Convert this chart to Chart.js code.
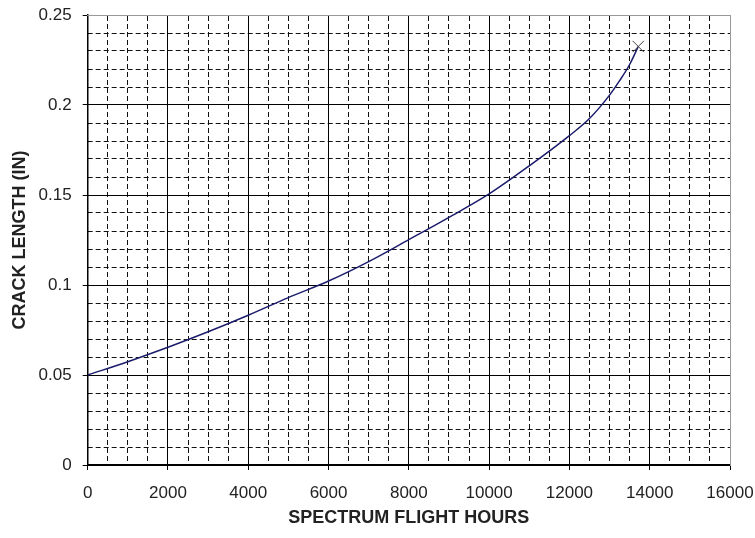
<!DOCTYPE html>
<html>
<head>
<meta charset="utf-8">
<script src="https://cdn.jsdelivr.net/npm/chart.js@4.4.1/dist/chart.umd.min.js"></script>
<style>
  html, body { margin: 0; padding: 0; background: #fff; }
  #wrap { width: 755px; height: 538px; }
</style>
</head>
<body>
<div id="wrap"><canvas id="crack" width="755" height="538"></canvas></div>
<script>
// crack growth curve
const hours = [0, 1000, 2000, 3000, 4000, 5000, 6000, 7000, 8000, 9000, 10000, 11000, 12000, 12500, 13000, 13250, 13500, 13715];
const crackLength = [0.05, 0.0574, 0.0654, 0.074, 0.0832, 0.093, 0.1022, 0.113, 0.1252, 0.1376, 0.1506, 0.1662, 0.1830, 0.1925, 0.2055, 0.2135, 0.2225, 0.2325];

const xMin = 0, xMax = 16000, xMajor = 2000, xMinor = 500;
const yMin = 0, yMax = 0.25, yMajor = 0.05, yMinor = 0.01;

const points = hours.map((h, i) => ({x: h, y: crackLength[i]}));
const lastIdx = points.length - 1;

const tickFont = {family: 'Liberation Sans, Arial, sans-serif', size: 17};
const titleFont = {family: 'Liberation Sans, Arial, sans-serif', size: 18, weight: 'bold'};

new Chart(document.getElementById('crack').getContext('2d'), {
    type: 'scatter',
    data: {
        datasets: [{
            data: points,
            showLine: true,
            borderColor: '#1c1c6c',
            borderWidth: 1.5,
            cubicInterpolationMode: 'monotone',
            pointStyle: 'crossRot',
            pointRadius: ctx => ctx.dataIndex === lastIdx ? 8 : 0,
            pointBorderColor: '#444',
            pointBorderWidth: 1,
            pointHoverRadius: 0
        }]
    },
    options: {
        responsive: false,
        animation: false,
        layout: {padding: {left: 0, right: 25, top: 15, bottom: 0}},
        plugins: {legend: {display: false}, tooltip: {enabled: false}},
        scales: {
            x: {
                type: 'linear', position: 'bottom', min: xMin, max: xMax,
                ticks: {stepSize: xMajor, font: tickFont, color: '#222', padding: 13, callback: v => String(v)},
                grid: {color: '#000', lineWidth: 1, tickLength: 5, tickColor: '#000'},
                border: {color: '#000', width: 1.5},
                title: {display: true, text: 'SPECTRUM FLIGHT HOURS', font: titleFont, color: '#222', padding: {top: -9, bottom: 9}},
                afterFit: scale => { scale.paddingRight = 0; }
            },
            y: {
                type: 'linear', position: 'left', min: yMin, max: yMax,
                ticks: {stepSize: yMajor, font: tickFont, color: '#222', padding: 11, callback: v => String(+v.toFixed(2))},
                grid: {color: '#000', lineWidth: 1, tickLength: 5, tickColor: '#000'},
                border: {color: '#000', width: 1.5},
                title: {display: true, text: 'CRACK LENGTH (IN)', font: titleFont, color: '#222', padding: {top: 9, bottom: -3}},
                afterFit: scale => { scale.paddingTop = 0; }
            },
            x2: {
                type: 'linear', position: 'top', min: xMin, max: xMax,
                ticks: {stepSize: xMinor, display: false},
                grid: {color: '#111', lineWidth: 1, drawTicks: false, z: -2},
                border: {color: '#999', width: 1, dash: [5, 3]}
            },
            y2: {
                type: 'linear', position: 'right', min: yMin, max: yMax,
                ticks: {stepSize: yMinor, display: false},
                grid: {color: '#111', lineWidth: 1, drawTicks: false, z: -2},
                border: {color: '#999', width: 1, dash: [5, 3]}
            }
        }
    }
});
</script>
</body>
</html>
